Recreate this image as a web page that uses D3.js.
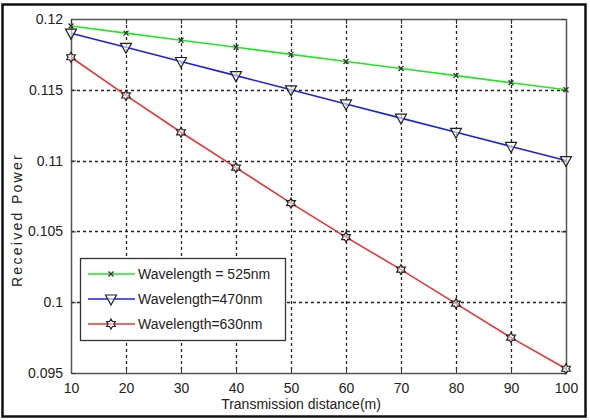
<!DOCTYPE html>
<html>
<head>
<meta charset="utf-8">
<script src="https://cdn.jsdelivr.net/npm/d3@7"></script>
<style>
body { margin: 0; background: #fff; }
svg text { font-family: "Liberation Sans", Arial, sans-serif; fill: #222; }
</style>
</head>
<body>
<div id="chart"></div>
<script>
var distances = [10, 20, 30, 40, 50, 60, 70, 80, 90, 100];
var power525 = [0.1195, 0.119, 0.1185, 0.118, 0.1175, 0.117, 0.1165, 0.116, 0.1155, 0.115];
var power470 = [0.119, 0.118, 0.117, 0.116, 0.115, 0.114, 0.113, 0.112, 0.111, 0.110];
var power630 = [0.1173, 0.1146, 0.112, 0.1095, 0.107, 0.1046, 0.1023, 0.0999, 0.0975, 0.0953];
var xTicks = [10, 20, 30, 40, 50, 60, 70, 80, 90, 100];
var yTicks = [0.095, 0.1, 0.105, 0.11, 0.115, 0.12];
var seriesNames = ["Wavelength = 525nm", "Wavelength=470nm", "Wavelength=630nm"];

var series = [
    {name: seriesNames[0], values: power525, color: "#22e622", marker: "x"},
    {name: seriesNames[1], values: power470, color: "#2020e0", marker: "tri"},
    {name: seriesNames[2], values: power630, color: "#ee3333", marker: "hex"}
];

var width = 590, height = 420;
var margin = {top: 19, right: 24, bottom: 47, left: 71};
var w = width - margin.left - margin.right;
var h = height - margin.top - margin.bottom;

var svg = d3.select("#chart").append("svg")
    .attr("width", width)
    .attr("height", height);

// outer frame
svg.append("rect")
    .attr("x", 2.5).attr("y", 4.5)
    .attr("width", 583).attr("height", 412)
    .attr("fill", "none")
    .attr("stroke", "#111")
    .attr("stroke-width", 2.5);

var g = svg.append("g")
    .attr("transform", "translate(" + margin.left + "," + margin.top + ")");

var x = d3.scaleLinear().domain([10, 100]).range([0, w]);
var y = d3.scaleLinear().domain([0.095, 0.12]).range([h, 0]);

// grid
g.append("g").selectAll("line")
    .data(xTicks.slice(1, -1))
    .enter().append("line")
    .attr("x1", function(d) { return Math.round(x(d)) + 0.5; })
    .attr("x2", function(d) { return Math.round(x(d)) + 0.5; })
    .attr("y1", 0).attr("y2", h)
    .attr("stroke", "#222")
    .attr("stroke-width", 1.3)
    .attr("stroke-dasharray", "3,3");

g.append("g").selectAll("line")
    .data(yTicks.slice(1, -1))
    .enter().append("line")
    .attr("y1", function(d) { return Math.round(y(d)) + 0.5; })
    .attr("y2", function(d) { return Math.round(y(d)) + 0.5; })
    .attr("x1", 0).attr("x2", w)
    .attr("stroke", "#222")
    .attr("stroke-width", 1.3)
    .attr("stroke-dasharray", "3,3");

// axes
var xAxis = g.append("g")
    .attr("transform", "translate(0," + h + ")")
    .call(d3.axisBottom(x).tickValues(xTicks).tickSizeInner(-5).tickSizeOuter(0).tickPadding(10));
var yAxis = g.append("g")
    .call(d3.axisLeft(y).tickValues(yTicks).tickSizeInner(-5).tickSizeOuter(0).tickPadding(8)
        .tickFormat(function(d) { return d3.format("")(+d.toFixed(3)); }));
g.append("g")
    .call(d3.axisTop(x).tickValues(xTicks).tickSizeInner(-5).tickSizeOuter(0).tickFormat(""));
g.append("g")
    .attr("transform", "translate(" + w + ",0)")
    .call(d3.axisRight(y).tickValues(yTicks).tickSizeInner(-5).tickSizeOuter(0).tickFormat(""));

g.selectAll(".domain").attr("stroke", "#555").attr("stroke-width", 1.5);
g.selectAll(".tick line").attr("stroke", "#333");
g.selectAll(".tick text").style("font-size", "14px").style("font-family", "Liberation Sans, Arial, sans-serif").attr("fill", "#222");

// lines
var line = d3.line()
    .x(function(d, i) { return x(distances[i]); })
    .y(function(d) { return y(d); });

var hexPath = (function() {
    var pts = [];
    for (var i = 0; i < 12; i++) {
        var r = i % 2 === 0 ? 5 : 2.9;
        var a = Math.PI / 6 * i - Math.PI / 2;
        pts.push([r * Math.cos(a), r * Math.sin(a)]);
    }
    return "M" + pts.map(function(p) { return p[0].toFixed(2) + "," + p[1].toFixed(2); }).join("L") + "Z";
})();

function drawMarker(sel, type) {
    if (type === "x") {
        sel.append("path").attr("d", "M-2.5,-2.5L2.5,2.5M-2.5,2.5L2.5,-2.5")
            .attr("stroke", "#333").attr("stroke-width", 1.3).attr("fill", "none");
    } else if (type === "tri") {
        sel.append("path").attr("d", "M-5.5,-4L5.5,-4L0,6Z")
            .attr("stroke", "#222").attr("stroke-width", 1.2).attr("fill", "#fff").attr("fill-opacity", 0.6);
    } else {
        sel.append("path").attr("d", hexPath)
            .attr("stroke", "#222").attr("stroke-width", 1.2).attr("fill", "#fff").attr("fill-opacity", 0.5);
    }
}

series.forEach(function(s) {
    g.append("path")
        .datum(s.values)
        .attr("d", line)
        .attr("fill", "none")
        .attr("stroke", s.color)
        .attr("stroke-width", 1.6);
    g.append("g").selectAll("g")
        .data(s.values)
        .enter().append("g")
        .attr("transform", function(d, i) { return "translate(" + x(distances[i]) + "," + y(d) + ")"; })
        .each(function() { drawMarker(d3.select(this), s.marker); });
});

// legend
var legend = svg.append("g").attr("transform", "translate(80,258)");
legend.append("rect")
    .attr("x", 0.5).attr("y", 0.5)
    .attr("width", 205).attr("height", 82)
    .attr("fill", "#fff")
    .attr("stroke", "#333")
    .attr("stroke-width", 1.3);
series.forEach(function(s, i) {
    var row = legend.append("g").attr("transform", "translate(0," + (16 + i * 25) + ")");
    row.append("line").attr("x1", 8).attr("x2", 55).attr("y1", 0).attr("y2", 0)
        .attr("stroke", s.color).attr("stroke-width", 1.6);
    drawMarker(row.append("g").attr("transform", "translate(31,0)"), s.marker);
    row.append("text").attr("x", 58).attr("y", 5)
        .style("font-size", "14px")
        .text(s.name);
});

// axis labels
svg.append("text")
    .attr("x", 301).attr("y", 409)
    .attr("text-anchor", "middle")
    .style("font-size", "14px")
    .text("Transmission distance(m)");
svg.append("text")
    .attr("transform", "translate(22,220) rotate(-90)")
    .attr("text-anchor", "middle")
    .style("font-size", "14px")
    .style("letter-spacing", "2.3px")
    .text("Received Power");
</script>
</body>
</html>
